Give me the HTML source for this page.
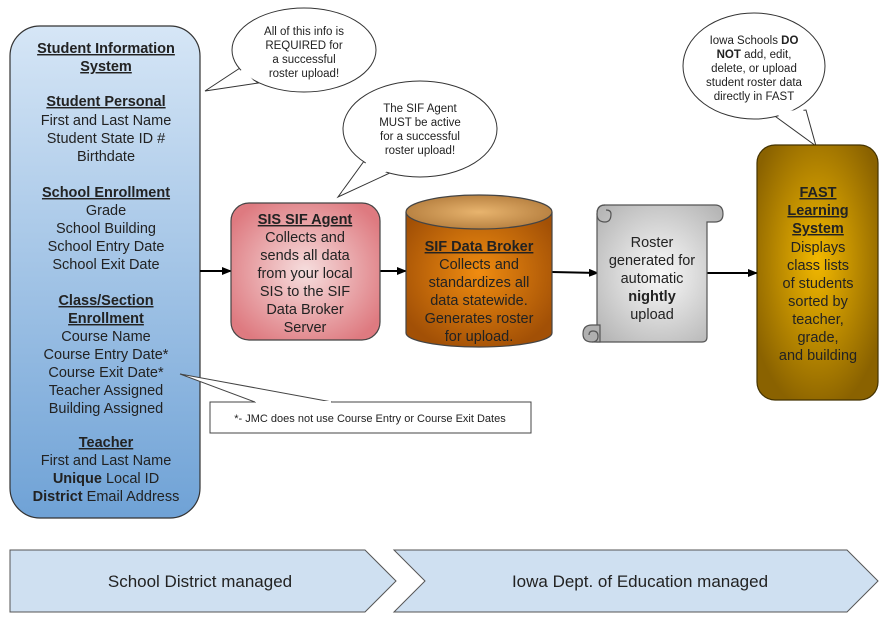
<!DOCTYPE html>
<html><head><meta charset="utf-8"><style>
html,body{margin:0;padding:0;background:#fff;width:893px;height:626px;overflow:hidden}
svg{display:block;font-family:"Liberation Sans",Arial,sans-serif}
</style></head><body>
<svg width="893" height="626" viewBox="0 0 893 626" xmlns="http://www.w3.org/2000/svg">
<defs>
<linearGradient id="gb" x1="0" y1="0" x2="0" y2="1"><stop offset="0" stop-color="#d6e6f6"/><stop offset="1" stop-color="#6fa2d6"/></linearGradient>
<radialGradient id="gr" cx="0.5" cy="0.5" r="0.6"><stop offset="0" stop-color="#f6dede"/><stop offset="1" stop-color="#de7a80"/></radialGradient>
<radialGradient id="go" cx="0.5" cy="0.45" r="0.6"><stop offset="0" stop-color="#f08c10"/><stop offset="1" stop-color="#a25006"/></radialGradient>
<radialGradient id="gt" cx="0.5" cy="0.5" r="0.6"><stop offset="0" stop-color="#e8b46e"/><stop offset="1" stop-color="#b0793a"/></radialGradient>
<radialGradient id="gs" cx="0.5" cy="0.5" r="0.65"><stop offset="0" stop-color="#fafafa"/><stop offset="1" stop-color="#b6b6b6"/></radialGradient>
<radialGradient id="gy" cx="0.5" cy="0.45" r="0.6"><stop offset="0" stop-color="#f2b800"/><stop offset="1" stop-color="#8a6200"/></radialGradient>
<marker id="ar" markerWidth="10" markerHeight="8" refX="9" refY="4" orient="auto" markerUnits="userSpaceOnUse"><path d="M0,0 L10,4 L0,8 z" fill="#000"/></marker>
</defs>

<!-- SIS box -->
<rect x="10" y="26" width="190" height="492" rx="30" fill="url(#gb)" stroke="#333" stroke-width="1.2"/>
<g font-size="14.5" text-anchor="middle" fill="#222">
<g font-weight="bold" text-decoration="underline">
<text x="106" y="53">Student Information</text>
<text x="106" y="71">System</text>
<text x="106" y="106">Student Personal</text>
<text x="106" y="197">School Enrollment</text>
<text x="106" y="305">Class/Section</text>
<text x="106" y="323">Enrollment</text>
<text x="106" y="447">Teacher</text>
</g>
<text x="106" y="125">First and Last Name</text>
<text x="106" y="143">Student State ID #</text>
<text x="106" y="161">Birthdate</text>
<text x="106" y="215">Grade</text>
<text x="106" y="233">School Building</text>
<text x="106" y="251">School Entry Date</text>
<text x="106" y="269">School Exit Date</text>
<text x="106" y="341">Course Name</text>
<text x="106" y="359">Course Entry Date*</text>
<text x="106" y="377">Course Exit Date*</text>
<text x="106" y="395">Teacher Assigned</text>
<text x="106" y="413">Building Assigned</text>
<text x="106" y="465">First and Last Name</text>
<text x="106" y="483"><tspan font-weight="bold">Unique</tspan> Local ID</text>
<text x="106" y="501"><tspan font-weight="bold">District</tspan> Email Address</text>
</g>

<!-- callouts -->
<g fill="#fff" stroke="#333" stroke-width="1">
<path d="M240,68 L205,91 L258,83 Z"/>
<ellipse cx="304" cy="50" rx="72" ry="42"/>
<path d="M367,157 L338,197 L392,172 Z"/>
<ellipse cx="420" cy="129" rx="77" ry="48"/>
<path d="M772,114 L816,146 L806,110 Z"/>
<ellipse cx="754" cy="66" rx="71" ry="53"/>
</g>
<g fill="#fff">
<path d="M243,69 L212,89 L254,81 Z"/>
<path d="M369,159 L342,192 L388,171 Z"/>
<path d="M775,113 L813,141 L803,109 Z"/>
</g>
<g font-size="11.5" text-anchor="middle" fill="#222">
<text x="304" y="35">All of this info is</text>
<text x="304" y="49">REQUIRED for</text>
<text x="304" y="63">a successful</text>
<text x="304" y="77">roster upload!</text>
<text x="420" y="112">The SIF Agent</text>
<text x="420" y="126">MUST be active</text>
<text x="420" y="140">for a successful</text>
<text x="420" y="154">roster upload!</text>
<text x="754" y="44">Iowa Schools <tspan font-weight="bold">DO</tspan></text>
<text x="754" y="58"><tspan font-weight="bold">NOT</tspan> add, edit,</text>
<text x="754" y="72">delete, or upload</text>
<text x="754" y="86">student roster data</text>
<text x="754" y="100">directly in FAST</text>
</g>

<!-- arrows -->
<g stroke="#000" stroke-width="2" marker-end="url(#ar)">
<line x1="200" y1="271" x2="231" y2="271"/>
<line x1="380" y1="271" x2="406" y2="271"/>
<line x1="552" y1="272" x2="598" y2="273"/>
<line x1="707" y1="273" x2="757" y2="273"/>
</g>

<!-- SIS SIF agent -->
<rect x="231" y="203" width="149" height="137" rx="18" fill="url(#gr)" stroke="#444" stroke-width="1.2"/>
<g font-size="14.5" text-anchor="middle" fill="#222">
<text x="305" y="224" font-weight="bold" text-decoration="underline">SIS SIF Agent</text>
<text x="305" y="242">Collects and</text>
<text x="305" y="260">sends all data</text>
<text x="305" y="278">from your local</text>
<text x="305" y="296">SIS to the SIF</text>
<text x="305" y="314">Data Broker</text>
<text x="305" y="332">Server</text>
</g>

<!-- cylinder -->
<path d="M406,212 L406,333 A73,14 0 0 0 552,333 L552,212" fill="url(#go)" stroke="#444" stroke-width="1.2"/>
<ellipse cx="479" cy="212" rx="73" ry="17" fill="url(#gt)" stroke="#444" stroke-width="1.2"/>
<g font-size="14.5" text-anchor="middle" fill="#222">
<text x="479" y="251" font-weight="bold" text-decoration="underline">SIF Data Broker</text>
<text x="479" y="269">Collects and</text>
<text x="479" y="287">standardizes all</text>
<text x="479" y="305">data statewide.</text>
<text x="479" y="323">Generates roster</text>
<text x="479" y="341">for upload.</text>
</g>

<!-- scroll -->
<path d="M597,214 L597,342 L702,342 Q707,342 707,337 L707,222 L715,222 Q723,222 723,214 Q723,205 715,205 L605,205 Q597,205 597,214 Z" fill="url(#gs)" stroke="#555" stroke-width="1.2"/>
<path d="M605,205 Q597,205 597,214 Q597,222 605,222 Q611,222 611,214 Q611,210 606,210" fill="none" stroke="#555" stroke-width="1.2"/>
<path d="M600,325 L592,325 Q583,325 583,334 Q583,342 592,342 L600,342 Z" fill="#b0b0b0" stroke="#555" stroke-width="1.2"/>
<path d="M592,342 Q598,342 598,336 Q598,331 593,331 Q589,331 589,335" fill="none" stroke="#555" stroke-width="1.2"/>
<g font-size="14.5" text-anchor="middle" fill="#222">
<text x="652" y="247">Roster</text>
<text x="652" y="265">generated for</text>
<text x="652" y="283">automatic</text>
<text x="652" y="301" font-weight="bold">nightly</text>
<text x="652" y="319">upload</text>
</g>

<!-- FAST -->
<rect x="757" y="145" width="121" height="255" rx="18" fill="url(#gy)" stroke="#443300" stroke-width="1.2"/>
<g font-size="14.5" text-anchor="middle" fill="#222">
<g font-weight="bold" text-decoration="underline">
<text x="818" y="197">FAST</text>
<text x="818" y="215">Learning</text>
<text x="818" y="233">System</text>
</g>
<text x="818" y="252">Displays</text>
<text x="818" y="270">class lists</text>
<text x="818" y="288">of students</text>
<text x="818" y="306">sorted by</text>
<text x="818" y="324">teacher,</text>
<text x="818" y="342">grade,</text>
<text x="818" y="360">and building</text>
</g>

<!-- note -->
<path d="M210,402 L531,402 L531,433 L210,433 Z" fill="#fff" stroke="#444" stroke-width="1"/>
<path d="M255,402 L180,374 L332,402" fill="#fff" stroke="#444" stroke-width="1"/>
<line x1="256" y1="402" x2="331" y2="402" stroke="#fff" stroke-width="2"/>
<text x="370" y="422" font-size="11" text-anchor="middle" fill="#222">*- JMC does not use Course Entry or Course Exit Dates</text>

<!-- bottom chevrons -->
<path d="M10,550 L365,550 L396,581 L365,612 L10,612 Z" fill="#cfe0f1" stroke="#555" stroke-width="1"/>
<path d="M394,550 L847,550 L878,581 L847,612 L394,612 L425,581 Z" fill="#cfe0f1" stroke="#555" stroke-width="1"/>
<g font-size="17" text-anchor="middle" fill="#222">
<text x="200" y="587">School District managed</text>
<text x="640" y="587">Iowa Dept. of Education managed</text>
</g>
</svg>
</body></html>
